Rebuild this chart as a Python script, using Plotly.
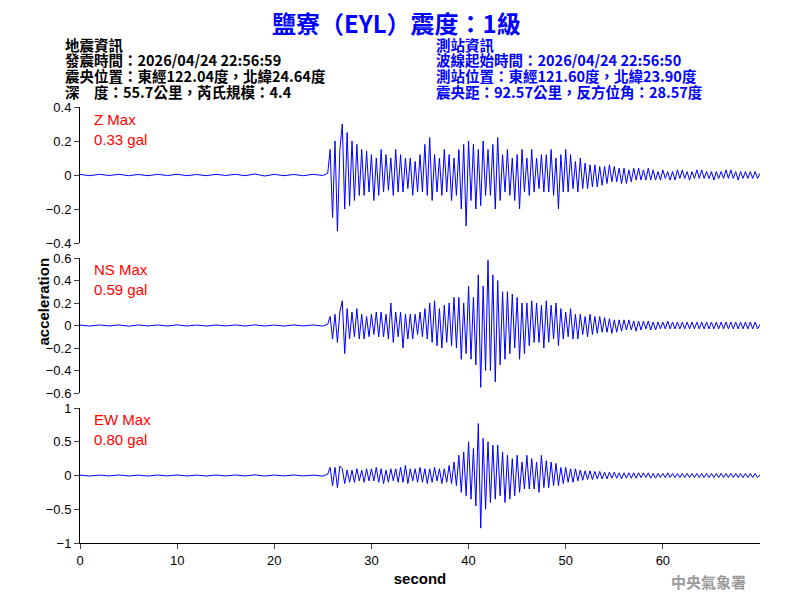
import plotly.graph_objects as go

# quiet pre-event samples, 1 s step from 0 to 25 s
t_quiet0, dt_quiet = 0.0, 1.0
z_quiet = [0.003,-0.004,0.004,-0.003,0.004,-0.004,0.003,-0.004,0.004,-0.003,0.004,-0.004,0.003,-0.004,0.004,-0.003,0.004,-0.004,0.006,-0.006,0.004,-0.004,0.003,-0.004,0.004,-0.003]
ns_quiet = [0.004,-0.005,0.005,-0.004,0.005,-0.006,0.005,-0.004,0.005,-0.005,0.006,-0.005,0.004,-0.005,0.005,-0.004,0.005,-0.005,0.006,-0.005,0.004,-0.005,0.005,-0.004,0.005,-0.005]
ew_quiet = [0.006,-0.008,0.007,-0.006,0.008,-0.007,0.006,-0.008,0.007,-0.006,0.008,-0.007,0.006,-0.008,0.007,-0.006,0.008,-0.007,0.01,-0.008,0.007,-0.006,0.008,-0.007,0.006,-0.008]

# event samples, 0.25 s step from 25.5 to 70 s
t_ev0, dt_ev = 25.5, 0.25
z_ev = [0.01,0.15,
 -0.25,0.2,-0.33,0.15, 0.3,-0.2,0.25,-0.18, 0.2,-0.15,0.18,-0.12, 0.15,-0.12,0.14,-0.1,
 0.12,-0.15,0.1,-0.12, 0.15,-0.1,0.12,-0.09, 0.1,-0.12,0.15,-0.1, 0.12,-0.1,0.1,-0.08,
 0.1,-0.12,0.08,-0.1, 0.12,-0.1,0.18,-0.12, 0.22,-0.15,0.12,-0.1, 0.1,-0.12,0.15,-0.1,
 0.12,-0.15,0.1,-0.12, 0.15,-0.2,0.18,-0.3, 0.2,-0.15,0.18,-0.2, 0.15,-0.18,0.2,-0.12,
 0.15,-0.12,0.18,-0.2, 0.22,-0.15,0.12,-0.1, 0.15,-0.12,0.1,-0.15, 0.12,-0.2,0.15,-0.1,
 0.1,-0.12,0.15,-0.1, 0.1,-0.08,0.12,-0.1, 0.12,-0.1,0.15,-0.12, 0.1,-0.2,0.12,-0.1,
 0.15,-0.1,0.12,-0.08, 0.08,-0.1,0.1,-0.08, 0.07,-0.08,0.06,-0.07, 0.06,-0.07,0.05,-0.06,
 0.05,-0.05,0.06,-0.04, 0.05,-0.04,0.04,-0.05, 0.04,-0.05,0.03,-0.04, 0.04,-0.03,0.04,-0.03,
 0.03,-0.03,0.04,-0.03, 0.03,-0.03,0.02,-0.03, 0.03,-0.02,0.02,-0.03, 0.02,-0.03,0.03,-0.02,
 0.03,-0.02,0.02,-0.03, 0.02,-0.02,0.03,-0.02, 0.03,-0.02,0.02,-0.02, 0.02,-0.03,0.02,-0.02,
 0.02,-0.02,0.03,-0.02, 0.03,-0.02,0.02,-0.03, 0.02,-0.02,0.02,-0.02, 0.02,-0.02,0.02,-0.02,
 0.01]
ns_ev = [0.01,0.08,
 -0.12,0.1,-0.15,0.12, 0.22,-0.25,0.15,-0.12, 0.12,-0.1,0.15,-0.12, 0.1,-0.12,0.08,-0.1,
 0.1,-0.08,0.12,-0.1, 0.12,-0.1,0.1,-0.12, 0.2,-0.15,0.12,-0.1, 0.12,-0.2,0.1,-0.12,
 0.1,-0.12,0.1,-0.08, 0.12,-0.1,0.15,-0.12, 0.2,-0.15,0.22,-0.18, 0.15,-0.2,0.18,-0.15,
 0.2,-0.18,0.25,-0.2, 0.25,-0.3,0.2,-0.25, 0.35,-0.3,0.25,-0.35, 0.45,-0.55,0.35,-0.4,
 0.58,-0.4,0.45,-0.5, 0.4,-0.35,0.3,-0.3, 0.3,-0.25,0.28,-0.2, 0.25,-0.3,0.2,-0.25,
 0.2,-0.18,0.22,-0.15, 0.2,-0.15,0.18,-0.2, 0.22,-0.15,0.18,-0.12, 0.2,-0.18,0.15,-0.12,
 0.12,-0.1,0.15,-0.12, 0.1,-0.12,0.1,-0.08, 0.08,-0.1,0.1,-0.08, 0.08,-0.07,0.08,-0.06,
 0.07,-0.06,0.06,-0.07, 0.05,-0.06,0.05,-0.05, 0.05,-0.04,0.05,-0.04, 0.04,-0.05,0.04,-0.04,
 0.04,-0.03,0.04,-0.04, 0.03,-0.04,0.03,-0.03, 0.03,-0.03,0.04,-0.03, 0.03,-0.03,0.03,-0.03,
 0.03,-0.03,0.03,-0.03, 0.03,-0.03,0.03,-0.03, 0.03,-0.03,0.03,-0.03, 0.03,-0.03,0.03,-0.03,
 0.03,-0.03,0.03,-0.03, 0.03,-0.03,0.03,-0.03, 0.03,-0.03,0.03,-0.03, 0.03,-0.03,0.03,-0.03,
 0.01]
ew_ev = [0.02,0.12,
 -0.15,0.12,-0.18,0.14, 0.1,-0.12,0.08,-0.1, 0.08,-0.1,0.1,-0.08, 0.08,-0.1,0.1,-0.08,
 0.1,-0.08,0.12,-0.1, 0.1,-0.12,0.08,-0.1, 0.1,-0.08,0.1,-0.1, 0.12,-0.1,0.15,-0.12,
 0.1,-0.08,0.1,-0.1, 0.12,-0.1,0.1,-0.12, 0.1,-0.1,0.12,-0.08, 0.1,-0.12,0.1,-0.1,
 0.15,-0.12,0.2,-0.15, 0.3,-0.25,0.35,-0.3, 0.5,-0.35,0.4,-0.45, 0.77,-0.78,0.55,-0.5,
 0.5,-0.4,0.45,-0.35, 0.45,-0.3,0.35,-0.4, 0.3,-0.35,0.25,-0.3, 0.3,-0.25,0.2,-0.2,
 0.3,-0.2,0.25,-0.2, 0.2,-0.25,0.3,-0.18, 0.22,-0.18,0.2,-0.15, 0.18,-0.15,0.12,-0.12,
 0.12,-0.1,0.1,-0.1, 0.1,-0.08,0.08,-0.07, 0.07,-0.06,0.07,-0.06, 0.06,-0.05,0.06,-0.05,
 0.05,-0.05,0.05,-0.04, 0.05,-0.04,0.04,-0.05, 0.04,-0.04,0.04,-0.04, 0.04,-0.04,0.04,-0.03,
 0.04,-0.03,0.04,-0.04, 0.03,-0.04,0.03,-0.03, 0.03,-0.03,0.04,-0.03, 0.03,-0.03,0.03,-0.03,
 0.03,-0.03,0.03,-0.03, 0.03,-0.03,0.03,-0.03, 0.03,-0.03,0.03,-0.03, 0.03,-0.03,0.03,-0.03,
 0.03,-0.03,0.03,-0.03, 0.03,-0.03,0.03,-0.03, 0.03,-0.03,0.03,-0.03, 0.03,-0.03,0.03,-0.03,
 0.01]

components = ["Z", "NS", "EW"]
max_labels = ["0.33 gal", "0.59 gal", "0.80 gal"]
y_ranges = [[-0.4, 0.4], [-0.6, 0.6], [-1, 1]]
y_ticks = [[-0.4,-0.2,0,0.2,0.4],[-0.6,-0.4,-0.2,0,0.2,0.4,0.6],[-1,-0.5,0,0.5,1]]
x_ticks = [0,10,20,30,40,50,60]

left_lines = ["地震資訊", "發震時間：2026/04/24 22:56:59", "震央位置：東經122.04度，北緯24.64度", "深　度：55.7公里，芮氏規模：4.4"]
right_lines = ["測站資訊", "波線起始時間：2026/04/24 22:56:50", "測站位置：東經121.60度，北緯23.90度", "震央距：92.57公里，反方位角：28.57度"]

def series(quiet, ev):
    t = [t_quiet0 + dt_quiet*i for i in range(len(quiet))] + [t_ev0 + dt_ev*i for i in range(len(ev))]
    return t, quiet + ev

data = [series(z_quiet, z_ev), series(ns_quiet, ns_ev), series(ew_quiet, ew_ev)]

OFF = 8.0     # page body margin
H = 592.0
def py(pix):
    return 1 - (pix - OFF) / H

fig = go.Figure()
domains = [[py(243), py(107)], [py(393), py(258)], [py(543), py(408)]]
label_tops = [109, 259, 409]
for i, (t, v) in enumerate(data):
    n = "" if i == 0 else str(i+1)
    fig.add_trace(go.Scatter(x=t, y=v, mode="lines", line=dict(color="#0000ff", width=1),
                             xaxis="x"+n, yaxis="y"+n, showlegend=False))
    fig.layout["xaxis"+n] = dict(domain=[0,1], range=[0,70], anchor="y"+n, automargin=False,
        showline=(i==2), linecolor="black", ticks="outside" if i==2 else "",
        tickvals=x_ticks, showticklabels=(i==2), showgrid=False, zeroline=False,
        tickfont=dict(size=13, color="black"))
    fig.layout["yaxis"+n] = dict(domain=domains[i], range=y_ranges[i], anchor="x"+n, automargin=False,
        showline=True, linecolor="black", ticks="outside", tickvals=y_ticks[i],
        showgrid=False, zeroline=False, tickfont=dict(size=13, color="black"))
    fig.add_annotation(xref="paper", yref="paper", x=0.017, y=py(label_tops[i]),
        text=components[i]+" Max<br>"+max_labels[i], showarrow=False, align="left",
        xanchor="left", yanchor="top", font=dict(size=15, color="red", family="Arial"))

fig.layout.xaxis3.title = dict(text="<b>second</b>", font=dict(size=15, color="black"), standoff=6)

fig.add_annotation(xref="paper", yref="paper", x=(32-80)/680, y=py(302), text="<b>acceleration</b>",
    textangle=-90, showarrow=False, font=dict(size=15, color="black"))

fig.add_annotation(xref="paper", yref="paper", x=(396-80)/680, y=py(23), yanchor="middle", xanchor="center",
    text="<b>鹽寮（EYL）震度：1級</b>", showarrow=False, font=dict(size=24, color="#0000ff", family="Noto Sans CJK TC"))

for k, (lt, rt) in enumerate(zip(left_lines, right_lines)):
    yy = py(44 + 15.7*k)
    fig.add_annotation(xref="paper", yref="paper", x=(63-80)/680, y=yy, xanchor="left", yanchor="middle",
        text="<b>"+lt+"</b>", showarrow=False, font=dict(size=14.5, color="black", family="Noto Sans CJK TC"))
    fig.add_annotation(xref="paper", yref="paper", x=(434-80)/680, y=yy, xanchor="left", yanchor="middle",
        text="<b>"+rt+"</b>", showarrow=False, font=dict(size=14.5, color="#0000ff", family="Noto Sans CJK TC"))

fig.add_annotation(xref="paper", yref="paper", x=(748-80)/680, y=py(581), xanchor="right", yanchor="middle",
    text="<b>中央氣象署</b>", showarrow=False, font=dict(size=15, color="#999999", family="Noto Sans CJK TC"))

fig.update_layout(width=792, height=592, margin=dict(l=72, r=40, t=0, b=0),
    paper_bgcolor="white", plot_bgcolor="white", font=dict(family="Arial"))
fig.write_html("out.html")
